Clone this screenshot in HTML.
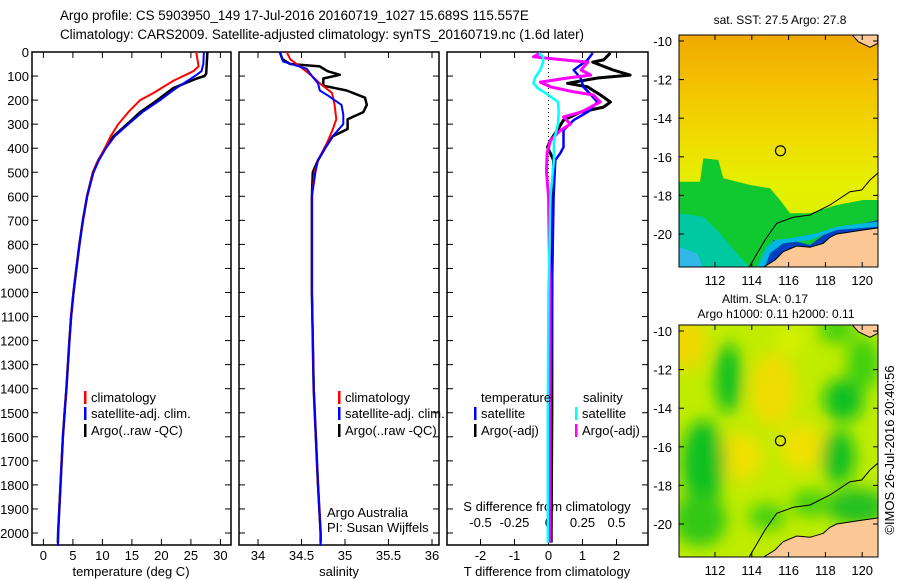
<!DOCTYPE html>
<html><head><meta charset="utf-8"><style>
html,body{margin:0;padding:0;background:#fff;}
svg{display:block;font-family:"Liberation Sans",sans-serif;}
text{font-size:13px;fill:#000;}
</style></head><body>
<svg id="fig" width="900" height="580" viewBox="0 0 900 580">
<defs>
<filter id="blur10"><feGaussianBlur stdDeviation="8"/></filter>
<linearGradient id="sstg" x1="0" y1="0" x2="0" y2="1">
<stop offset="0" stop-color="#f0a800"/><stop offset="0.2" stop-color="#f4c000"/><stop offset="0.45" stop-color="#f0dc00"/><stop offset="0.65" stop-color="#e4f000"/><stop offset="1" stop-color="#d8f000"/>
</linearGradient>
<clipPath id="c1"><rect x="679" y="35" width="199" height="232"/></clipPath>
<clipPath id="c2"><rect x="679" y="325" width="199" height="232"/></clipPath>
</defs>
<text x="60" y="20" style="font-size:13.4px">Argo profile: CS 5903950_149 17-Jul-2016 20160719_1027 15.689S 115.557E</text>
<text x="60" y="39" style="font-size:13.4px">Climatology: CARS2009. Satellite-adjusted climatology: synTS_20160719.nc (1.6d later)</text>
<g id="panels"></g>
<g id="maps"></g>
<text transform="translate(894,450) rotate(-90)" text-anchor="middle" style="font-size:13px">©IMOS 26-Jul-2016 20:40:56</text>
</svg>
<script>
// ---- data ----
const depthTicks=[0,100,200,300,400,500,600,700,800,900,1000,1100,1200,1300,1400,1500,1600,1700,1800,1900,2000];
const tempTicks=[0,5,10,15,20,25,30];
const salTicks=[34,34.5,35,35.5,36];
const salTickLabels=["34","34.5","35","35.5","36"];
const tdTicks=[-2,-1,0,1,2];
const sdTicks=[-0.5,-0.25,0,0.25,0.5];
const sdTickLabels=["-0.5","-0.25","0","0.25","0.5"];

const tArgoDepth=[0,90,100,110,150,200,250,300,350,400,450,500,600,700,800,900,1000,1100,1200,1400,1500,1600,1700,1800,1900,2000,2040];
const tArgo=[27.8,27.6,27.3,26,22,19.3,16.4,14.2,11.9,10.5,9.3,8.4,7.4,6.7,6.1,5.6,5.1,4.7,4.4,3.9,3.6,3.3,3.1,2.9,2.7,2.5,2.45];
const tClimDepth=[0,60,80,120,170,200,250,300,350,400,450,500,600,700,800,900,1000,1100,1200,1400,1500,1600,1700,1800,1900,2000,2054];
const tClim=[25.9,26.3,25.4,22,18.7,16.4,14.4,12.7,11.4,10.4,9.3,8.4,7.4,6.7,6.1,5.6,5.1,4.7,4.4,3.9,3.6,3.3,3.1,2.9,2.7,2.5,2.45];
const tSatDepth=[0,50,80,100,150,200,250,300,350,400,450,500,600,700,800,900,1000,1100,1200,1400,1500,1600,1700,1800,1900,2000,2054];
const tSat=[27.2,27.1,26.8,25.7,22.5,19.8,16.8,14.4,12.1,10.6,9.4,8.5,7.4,6.7,6.1,5.6,5.1,4.7,4.4,3.9,3.6,3.3,3.1,2.9,2.7,2.5,2.45];

const sArgoDepth=[0,30,50,60,80,95,110,140,160,190,220,250,280,320,350,400,450,500,600,1000,1400,1800,2000,2040];
const sArgo=[34.25,34.28,34.37,34.71,34.8,34.94,34.75,34.75,35.02,35.23,35.25,35.21,35.03,35.03,34.86,34.77,34.69,34.63,34.62,34.62,34.64,34.69,34.72,34.72];
const sClimDepth=[0,30,60,100,130,170,220,280,330,380,450,500,600,1000,1400,1800,2000,2054];
const sClim=[34.33,34.37,34.48,34.62,34.71,34.85,34.88,34.9,34.85,34.79,34.69,34.65,34.62,34.62,34.64,34.69,34.72,34.72];
const sSatDepth=[0,40,70,100,130,160,180,220,260,300,350,400,450,500,600,1000,1400,1800,2000,2054];
const sSat=[34.25,34.29,34.56,34.62,34.69,34.71,34.8,34.96,34.98,34.98,34.86,34.77,34.69,34.66,34.62,34.62,34.64,34.69,34.72,34.72];

const dTArgoDepth=[4,33,42,75,96,108,130,145,179,208,229,250,283,325,367,396,450,600,1000,1500,2000,2040];
const dTArgo=[1.82,1.62,1.3,1.9,2.4,1.44,0.56,1.15,1.53,1.82,1.62,0.94,0.44,0.26,0.06,-0.03,0.15,0.12,0.1,0.1,0.08,0.08];
const dTSatDepth=[4,33,75,108,145,208,250,283,325,396,420,450,600,1000,1500,2000,2040];
const dTSat=[1.3,1.15,0.74,0.94,1.03,1.44,1.15,0.74,0.44,0.44,0.35,0.2,0.15,0.1,0.06,0.03,0.03];
const dSArgoDepth=[4,20,33,42,75,96,108,125,145,165,179,208,229,250,270,300,325,367,420,500,600,1000,1500,2000,2040];
const dSArgo=[-0.06,-0.11,0.11,0.29,0.24,0.31,0.14,-0.06,0.015,0.18,0.33,0.38,0.31,0.24,0.11,0.16,0.09,0.015,-0.01,-0.015,0,0.01,0.01,0.01,0.01];
const dSSatDepth=[4,20,42,75,108,130,150,175,208,250,300,367,450,600,1000,1500,2000,2040];
const dSSat=[-0.07,-0.04,-0.04,-0.06,-0.1,-0.11,-0.08,-0.01,0.07,0.075,0.07,0.04,0.04,0.015,0,-0.005,-0.005,-0.005];

// ---- axes ----
const NS="http://www.w3.org/2000/svg";
const TOP=52,BOT=545;
const yD=d=>TOP+d*0.2405;
const xT=t=>43.4+t*5.9;
const xS=s=>258+(s-34)*87;
const xTD=t=>548.5+t*34;
const xSD=s=>548.5+s*136;
const P=[{l:32,r:231},{l:239,r:439},{l:447,r:648}];
const G=document.getElementById('panels');
function el(tag,attrs,parent,txt){const e=document.createElementNS(NS,tag);for(const k in attrs)e.setAttribute(k,attrs[k]);if(txt!==undefined)e.textContent=txt;(parent||G).appendChild(e);return e;}

P.forEach((p,i)=>{
  const r=el('rect',{x:p.l,y:TOP,width:p.r-p.l,height:BOT-TOP,fill:'#fff',stroke:'#000','stroke-width':1.5});
  
  
  depthTicks.forEach(d=>{
    el('line',{x1:p.l,x2:p.l+6,y1:yD(d),y2:yD(d),stroke:'#000'});
    el('line',{x1:p.r-6,x2:p.r,y1:yD(d),y2:yD(d),stroke:'#000'});
  });
});
depthTicks.forEach(d=>{
  const t=el('text',{x:29,y:yD(d)+5,'text-anchor':'end'},G,String(d));
  
  
});
function xaxis(ticks,labels,fx,p,ly){
  ticks.forEach((v,k)=>{
    const x=fx(v);
    el('line',{x1:x,x2:x,y1:BOT,y2:BOT-6,stroke:'#000'});
    el('line',{x1:x,x2:x,y1:TOP,y2:TOP+6,stroke:'#000'});
    const t=el('text',{x:x,y:ly,'text-anchor':'middle'},G,labels[k]);
    
    
  });
}
xaxis(tempTicks,tempTicks.map(String),xT,P[0],560);
xaxis(salTicks,salTickLabels,xS,P[1],560);
xaxis(tdTicks,tdTicks.map(String),xTD,P[2],560);
sdTicks.forEach((v,k)=>{const t=el('text',{x:xSD(v),y:527,'text-anchor':'middle'},G,sdTickLabels[k]);
  
  });
[[131,'temperature (deg C)','x-axis-title-temperature'],[339,'salinity','x-axis-title-salinity'],[547,'T difference from climatology','x-axis-title-tdiff']].forEach(a=>{
  const t=el('text',{x:a[0],y:576,'text-anchor':'middle'},G,a[1]);
  
  
});
{const t=el('text',{x:547,y:511,'text-anchor':'middle'},G,'S difference from climatology');
 
 }
el('line',{x1:xTD(0),x2:xTD(0),y1:TOP,y2:BOT,stroke:'#000','stroke-dasharray':'1,3'});

function series(ds,vs,fx,color,w,name){
  const pts=ds.map((d,k)=>fx(vs[k]).toFixed(1)+','+yD(d).toFixed(1)).join(' ');
  const pl=el('polyline',{points:pts,fill:'none',stroke:color,'stroke-width':w,'stroke-linejoin':'round'});
  
  
}
series(tArgoDepth,tArgo,xT,'#000',2.5,'temp-argo-line');
series(tClimDepth,tClim,xT,'#f00',2,'temp-climatology-line');
series(tSatDepth,tSat,xT,'#00f',2,'temp-satellite-line');
series(sArgoDepth,sArgo,xS,'#000',2.5,'sal-argo-line');
series(sClimDepth,sClim,xS,'#f00',2,'sal-climatology-line');
series(sSatDepth,sSat,xS,'#00f',2,'sal-satellite-line');
series(dTArgoDepth,dTArgo,xTD,'#000',3,'tdiff-argo-line');
series(dTSatDepth,dTSat,xTD,'#00f',2.5,'tdiff-satellite-line');
series(dSArgoDepth,dSArgo,xSD,'#f0f',3,'sdiff-argo-line');
series(dSSatDepth,dSSat,xSD,'#0ff',2.5,'sdiff-satellite-line');

function legend(x,y,color,label){
  el('rect',{x:x,y:y-11,width:2.5,height:13,fill:color});
  const t=el('text',{x:x+7,y:y},G,label);
  
  
}
[[84],[338]].forEach(a=>{
  legend(a[0],402,'#f00','climatology');
  legend(a[0],418,'#00f','satellite-adj. clim.');
  legend(a[0],435,'#000','Argo(..raw -QC)');
});
{const t=el('text',{x:481,y:402},G,'temperature');}
{const t=el('text',{x:583,y:402},G,'salinity');}
legend(474,418,'#00f','satellite');
legend(474,435,'#000','Argo(-adj)');
legend(575,418,'#0ff','satellite');
legend(575,435,'#f0f','Argo(-adj)');
{const t=el('text',{x:327,y:517},G,'Argo Australia');}
{const t=el('text',{x:327,y:532},G,'PI: Susan Wijffels');}

// ---- maps ----
const M=document.getElementById('maps');
const latTicks=[-10,-12,-14,-16,-18,-20];
const lonTicks=[112,114,116,118,120];
const argoLon=115.557, argoLat=-15.689;
const mx=lon=>715+(lon-112)*18.4;
const my=(lat,oy)=>oy+41+(-10-lat)*19.3;
function zp(pts,oy){return pts.map(p=>(650+p[0]/3).toFixed(1)+','+(oy+p[1]/3).toFixed(1)).join(' ');}
const coastLine=[[297,802],[345,720],[380,670],[430,652],[480,645],[540,615],[600,575],[635,570],[660,540],[683,520]];
const land=[[340,802],[375,780],[400,755],[440,738],[480,742],[520,730],[540,712],[560,702],[600,696],[640,690],[683,684],[683,802]];
const landNE=[[605,103],[625,125],[660,142],[683,130],[683,103]];
function drawMap(oy,kind){
  const g=el('g',{'clip-path':'url(#c'+kind+')'},M);
  
  
  if(kind===1){
    el('rect',{x:679,y:oy+35,width:199,height:232,fill:'url(#sstg)'},g);
    el('polygon',{points:zp([[88,545],[150,545],[160,475],[205,480],[220,535],[300,555],[360,565],[390,600],[420,640],[480,640],[560,615],[640,600],[683,600],[683,802],[88,802]],oy),fill:'#10c830'},g);
    el('polygon',{points:zp([[88,640],[160,650],[210,700],[260,760],[300,802],[88,802]],oy),fill:'#00c8a0'},g);
    el('polygon',{points:zp([[88,740],[140,760],[160,802],[88,802]],oy),fill:'#30b8e8'},g);
    el('polygon',{points:zp([[330,802],[370,720],[420,720],[480,735],[540,690],[600,680],[683,660],[683,700],[600,710],[540,730],[480,760],[400,790],[370,802]],oy),fill:'#0040c0'},g);
    el('polygon',{points:zp([[320,802],[350,740],[375,720],[420,715],[500,700],[560,680],[620,672],[683,665],[683,680],[560,690],[480,720],[400,730],[360,760],[345,802]],oy),fill:'#00b8e0'},g);
  } else {
    el('rect',{x:679,y:oy+35,width:199,height:232,fill:'#c0ec00'},g);
    const bl=el('g',{filter:'url(#blur10)'},g);
    [[110,160,60,80,'#f0d800'],[370,300,70,110,'#f0dc00'],[270,500,70,70,'#f0e000'],[460,470,70,70,'#f0e000'],[420,150,40,40,'#d8f000'],
     [235,265,40,105,'#10c020'],[160,520,65,130,'#10c020'],[150,690,80,80,'#30c818'],[580,330,60,65,'#10c020'],[565,500,50,80,'#10c020'],[640,220,50,80,'#40d010'],[620,650,90,55,'#20c020'],[480,640,55,40,'#40d010'],[350,680,55,40,'#40d010'],[560,120,55,40,'#40d010']]
     .forEach(b=>el('ellipse',{cx:650+b[0]/3,cy:oy+b[1]/3,rx:b[2]/3,ry:b[3]/3,fill:b[4]},bl));
  }
  el('polygon',{points:zp(land,oy),fill:'#fcc896'},g);
  el('polygon',{points:zp(landNE,oy),fill:'#fcc896',stroke:'#000','stroke-width':1},g);
  el('polyline',{points:zp(coastLine,oy),fill:'none',stroke:'#000','stroke-width':1},g);
  el('polyline',{points:zp(land.slice(0,11),oy),fill:'none',stroke:'#000','stroke-width':1},g);
  const c=el('circle',{cx:mx(argoLon),cy:my(argoLat,oy),r:5,fill:'none',stroke:'#000','stroke-width':1.2},M);
  
  
  const fr=el('rect',{x:679,y:oy+35,width:199,height:232,fill:'none',stroke:'#000','stroke-width':1},M);
  
  
  latTicks.forEach(l=>{
    const y=my(l,oy);
    el('line',{x1:679,x2:684,y1:y,y2:y,stroke:'#000'},M);
    el('line',{x1:873,x2:878,y1:y,y2:y,stroke:'#000'},M);
    const t=el('text',{x:672,y:y+5,'text-anchor':'end'},M,String(l));
    
    
  });
  lonTicks.forEach(l=>{
    const x=mx(l);
    el('line',{x1:x,x2:x,y1:oy+35,y2:oy+40,stroke:'#000'},M);
    el('line',{x1:x,x2:x,y1:oy+262,y2:oy+267,stroke:'#000'},M);
    const t=el('text',{x:x,y:oy+285,'text-anchor':'middle'},M,String(l));
    
    
  });
}
drawMap(0,1);
drawMap(290,2);
{const t=el('text',{x:780,y:24,'text-anchor':'middle',style:'font-size:12px'},M,'sat. SST: 27.5  Argo: 27.8');}
{const t=el('text',{x:765,y:303,'text-anchor':'middle',style:'font-size:12px'},M,'Altim. SLA: 0.17');}
{const t=el('text',{x:776,y:318,'text-anchor':'middle',style:'font-size:12px'},M,'Argo h1000: 0.11 h2000: 0.11');}
</script>
</body></html>
